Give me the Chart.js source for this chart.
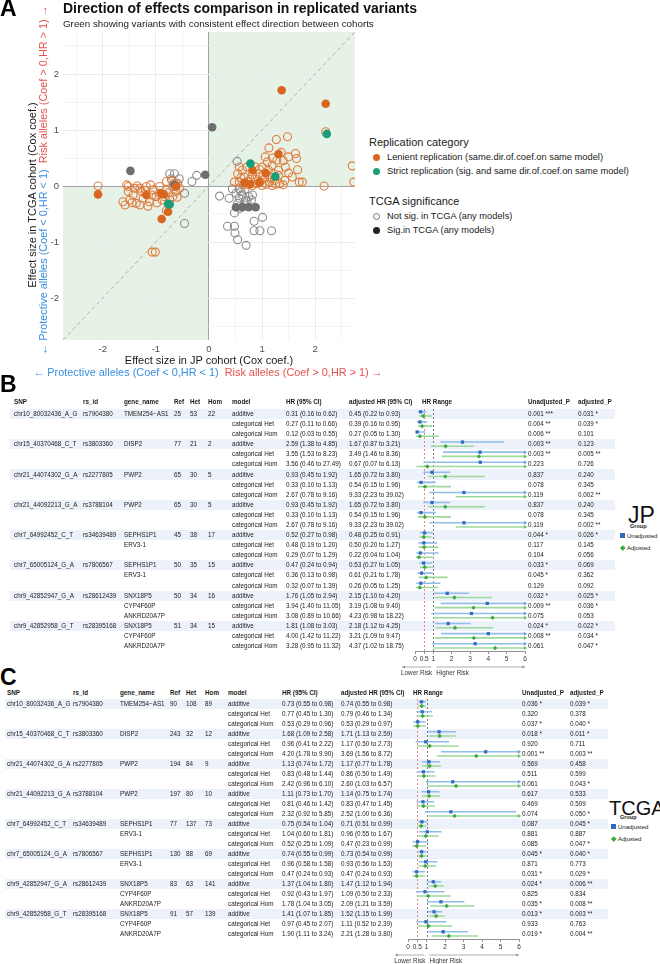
<!DOCTYPE html>
<html>
<head>
<meta charset="utf-8">
<title>Direction of effects comparison in replicated variants</title>
<script src="https://cdn.jsdelivr.net/npm/chart.js@4.4.1/dist/chart.umd.min.js"></script>
<style>
  body { margin: 0; width: 660px; height: 964px; position: relative; overflow: hidden; background: #fff;
         font-family: "Liberation Sans", Arial, sans-serif; color: #1a1a1a; }
  .t { position: absolute; white-space: nowrap; line-height: 1; z-index: 2; }
  canvas { position: absolute; z-index: 1; }
  .tag { font-weight: bold; font-size: 23px; color: #000; }
  .dot { position: absolute; width: 7px; height: 7px; border-radius: 50%; box-sizing: border-box; z-index: 2; }
</style>
</head>
<body>
<div class="t tag" style="left:0;top:-3px">A</div>
<div class="t" style="left:63px;top:1px;font-size:14px;font-weight:bold;color:#111">Direction of effects comparison in replicated variants</div>
<div class="t" style="left:63px;top:19px;font-size:9.8px;color:#222">Green showing variants with consistent effect direction between cohorts</div>
<canvas id="scatterA" width="360" height="380" style="left:0;top:0"></canvas>

<div class="t" style="left:209px;top:360px;transform:translate(-50%,-50%);font-size:11px">Effect size in JP cohort (Cox coef.)</div>
<div class="t" style="left:208px;top:372px;transform:translate(-50%,-50%);font-size:10.9px"><span style="color:#3a8ee2">← Protective alleles (Coef &lt; 0,HR &lt; 1)</span>&nbsp;&nbsp;<span style="color:#e2524e">Risk alleles (Coef &gt; 0,HR &gt; 1) →</span></div>
<div class="t" style="left:32px;top:195px;transform:translate(-50%,-50%) rotate(-90deg);font-size:11px">Effect size in TCGA cohort (Cox coef.)</div>
<div class="t" style="left:43px;top:180px;transform:translate(-50%,-50%) rotate(-90deg);font-size:10.9px"><span style="color:#3a8ee2">← Protective alleles (Coef &lt; 0,HR &lt; 1)</span>&nbsp;&nbsp;<span style="color:#e2524e">Risk alleles (Coef &gt; 0,HR &gt; 1) →</span></div>

<div class="t" style="left:369px;top:142px;transform:translateY(-50%);font-size:11px">Replication category</div>
<span class="dot" style="left:373px;top:154px;background:#D9661F"></span>
<div class="t" style="left:387px;top:158px;transform:translateY(-50%);font-size:9.3px">Lenient replication (same.dir.of.coef.on same model)</div>
<span class="dot" style="left:373px;top:168px;background:#1B9E77"></span>
<div class="t" style="left:387px;top:172px;transform:translateY(-50%);font-size:9.3px">Strict replication (sig. and same dir.of.coef.on same model)</div>
<div class="t" style="left:369px;top:201px;transform:translateY(-50%);font-size:11px">TCGA significance</div>
<span class="dot" style="left:373px;top:213px;border:1px solid #777"></span>
<div class="t" style="left:387px;top:217px;transform:translateY(-50%);font-size:9.3px">Not sig. in TCGA (any models)</div>
<span class="dot" style="left:373px;top:227px;background:#222"></span>
<div class="t" style="left:387px;top:231px;transform:translateY(-50%);font-size:9.3px">Sig.in TCGA (any models)</div>

<div class="t tag" style="left:0;top:373px">B</div>
<canvas id="forestB"></canvas>
<div class="t tag" style="left:0;top:666px">C</div>
<canvas id="forestC"></canvas>

<div class="t" style="left:628px;top:515px;transform:translateY(-50%);font-size:23px;color:#111">JP</div>
<div class="t" style="left:630px;top:527px;transform:translateY(-50%);font-size:5.5px;font-weight:bold">Group</div>
<span style="position:absolute;left:620px;top:533px;width:5px;height:5px;background:#2f6cc0;z-index:2"></span>
<div class="t" style="left:627px;top:536px;transform:translateY(-50%);font-size:6px">Unadjusted</div>
<span style="position:absolute;left:621px;top:546px;width:3.5px;height:3.5px;background:#3fa83f;transform:rotate(45deg);z-index:2"></span>
<div class="t" style="left:627px;top:548px;transform:translateY(-50%);font-size:6px">Adjusted</div>

<div class="t" style="left:609px;top:808px;transform:translateY(-50%);font-size:20px;color:#111">TCGA</div>
<div class="t" style="left:620px;top:818px;transform:translateY(-50%);font-size:5.5px;font-weight:bold">Group</div>
<span style="position:absolute;left:611px;top:824px;width:5px;height:5px;background:#2f6cc0;z-index:2"></span>
<div class="t" style="left:618px;top:827px;transform:translateY(-50%);font-size:6px">Unadjusted</div>
<span style="position:absolute;left:612px;top:837px;width:3.5px;height:3.5px;background:#3fa83f;transform:rotate(45deg);z-index:2"></span>
<div class="t" style="left:618px;top:839px;transform:translateY(-50%);font-size:6px">Adjusted</div>

<script>
// ---- panel A: effect sizes (Cox coef.), [JP, TCGA] ----
const strictPts = [[2.22,0.93],[0.78,0.4],[1.25,0.17],[-0.77,-0.32],[-0.74,-0.33]];
const lenientSig = [[1.37,1.71],[2.2,1.47],[1.31,0.57],[0.67,0.06],[0.95,0.06],[1.07,0.23],[0.82,0.28],[0.78,0.03],
  [-2.09,-0.15],[-0.9,-0.13],[-0.62,-0.01],[-0.77,-0.46],[-0.89,-0.59],[-1.18,-0.16],[-0.85,-0.15]];
const notRepSig = [[0.06,1.05],[-1.48,0.27],[-0.07,0.2],[0.51,-0.38],[0.63,-0.38],[0.75,-0.38],[0.88,-0.38],[-0.65,0.02]];
const lenientOpen = [[2.2,0.97],[1.48,0.88],[1.27,0.83],[1.13,0.68],[2.17,0.0],[2.7,0.36],[2.73,0.07],
  [0.54,0.22],[0.63,0.28],[0.72,0.34],[0.82,0.2],[1.0,0.34],[1.1,0.43],[1.19,0.37],[1.28,0.46],[1.36,0.6],
  [1.44,0.34],[1.5,0.52],[1.63,0.58],[1.65,0.49],[1.67,0.29],[1.5,0.23],[1.7,0.07],[1.76,0.07],[0.57,0.07],
  [0.66,0.16],[0.75,0.07],[0.87,0.13],[0.96,0.07],[1.05,0.13],[1.14,0.07],[1.24,0.1],[1.33,0.04],[1.43,0.1],
  [0.87,0.34],[1.06,0.52],[1.31,0.28],[1.22,0.22],[0.48,0.07],[0.57,0.34],[1.12,0.28],[0.94,0.22],[0.82,0.01],
  [1.0,0.01],[1.19,0.01],[1.31,0.19],[1.57,0.16],[0.65,0.02],[0.72,0.03],[0.9,0.04],[1.08,0.03],[1.26,0.03],
  [1.4,0.02],[0.78,0.12],[0.6,0.15],[1.15,0.16],[0.95,0.3],[1.02,0.2],[1.4,0.45],[1.2,0.5],
  [-2.09,0.0],[-1.07,-1.18],[-1.01,-1.18],[-1.55,0.02],[-1.4,-0.04],[-1.49,-0.25],[-1.62,-0.28],[-1.58,-0.34],
  [-1.37,-0.31],[-1.24,-0.22],[-1.12,-0.28],[-1.0,-0.19],[-1.05,-0.07],[-1.18,-0.01],[-0.93,-0.01],[-0.8,-0.07],
  [-0.68,-0.01],[-0.59,0.05],[-0.68,-0.19],[-0.84,-0.19],[-0.93,-0.13],[-1.08,-0.16],[-1.27,-0.1],[-1.43,-0.16],
  [-1.3,-0.34],[-1.15,-0.36],[-0.62,-0.1],[-0.55,-0.04],[-0.74,-0.25],[-0.8,-0.44],[-1.52,-0.1],[-1.3,-0.04],
  [-0.8,0.08],[-0.7,0.1],[-1.52,-0.01],[-1.35,0.0],[-1.2,-0.08],[-0.98,-0.3],[-0.88,-0.25],[-0.6,-0.2],
  [-1.45,-0.3],[-0.76,-0.12],[-0.65,0.05],[-1.1,0.02]];
const notRepOpen = [[0.53,0.44],[-0.74,0.22],[-0.65,0.22],[-0.71,0.13],[-0.56,0.13],[-0.62,0.05],[-0.46,-0.13],
  [-0.23,0.19],[-0.32,0.08],[-0.46,-0.67],[0.2,-0.18],[0.38,-0.22],[0.51,-0.13],[0.57,-0.22],[0.63,-0.16],
  [0.69,-0.25],[0.75,-0.19],[0.82,-0.16],[0.54,-0.31],[0.66,-0.34],[0.48,-0.48],[0.85,-0.63],[1.01,-0.56],
  [0.35,-0.72],[0.48,-0.72],[0.49,-0.84],[0.54,-0.96],[0.7,-1.06],[0.85,-0.8],[0.96,-0.8],[1.18,-0.8],
  [0.57,-0.05],[0.44,-0.05],[0.6,-0.1],[0.68,-0.06],[0.72,-0.28],[0.58,-0.4],[0.8,-0.25]];
const effectTicks = [-2.5,-2,-1.5,-1,-0.5,0,0.5,1,1.5,2,2.5];

// ---- panels B and C: tables ----
const snpIds = ['chr10_80032436_A_G','chr15_40370468_C_T','chr21_44074302_G_A','chr21_44092213_G_A',
  'chr7_64992452_C_T','chr7_65005124_G_A','chr9_42852947_G_A','chr9_42852958_G_T'];
const rsIds = ['rs7904380','rs3803360','rs2277805','rs3788104','rs34639489','rs7806567','rs28612439','rs28395168'];
const geneNames = [['TMEM254−AS1'],['DISP2'],['PWP2'],['PWP2'],['SEPHS1P1','ERV3-1'],['SEPHS1P1','ERV3-1'],
  ['SNX18P5','CYP4F60P','ANKRD20A7P'],['SNX18P5','CYP4F60P','ANKRD20A7P']];
const models = ['additive','categorical Het','categorical Hom'];
const hrTicks = [0,0.5,1,2,3,4,5,6];
const refHR = [0.5, 1];

const jpCounts = [[25,53,22],[77,21,2],[65,30,5],[65,30,5],[45,38,17],[50,35,15],[50,34,16],[51,34,15]];
const jpHR = [[0.31,0.16,0.62],[0.27,0.11,0.66],[0.12,0.03,0.55],[2.59,1.38,4.85],[3.55,1.53,8.23],[3.56,0.46,27.49],
  [0.93,0.45,1.92],[0.33,0.10,1.13],[2.67,0.78,9.16],[0.93,0.45,1.92],[0.33,0.10,1.13],[2.67,0.78,9.16],
  [0.52,0.27,0.98],[0.48,0.19,1.20],[0.29,0.07,1.29],[0.47,0.24,0.94],[0.36,0.13,0.98],[0.32,0.07,1.39],
  [1.76,1.05,2.94],[3.94,1.40,11.05],[3.08,0.89,10.66],[1.81,1.08,3.03],[4.00,1.42,11.22],[3.28,0.95,11.32]];
const jpAdjHR = [[0.45,0.22,0.93],[0.39,0.16,0.95],[0.27,0.05,1.30],[1.67,0.87,3.21],[3.49,1.46,8.36],[0.67,0.07,6.13],
  [1.65,0.72,3.80],[0.54,0.15,1.96],[9.33,2.23,39.02],[1.65,0.72,3.80],[0.54,0.15,1.96],[9.33,2.23,39.02],
  [0.48,0.25,0.91],[0.50,0.20,1.27],[0.22,0.04,1.04],[0.53,0.27,1.05],[0.61,0.21,1.78],[0.26,0.05,1.25],
  [2.15,1.10,4.20],[3.19,1.08,9.40],[4.23,0.98,18.22],[2.18,1.12,4.25],[3.21,1.09,9.47],[4.37,1.02,18.75]];
const jpP = ['0.001 ***','0.004 **','0.006 **','0.003 **','0.003 **','0.223','0.837','0.078','0.119','0.837','0.078','0.119',
  '0.044 *','0.117','0.104','0.033 *','0.045 *','0.129','0.032 *','0.009 **','0.075','0.024 *','0.008 **','0.061'];
const jpAdjP = ['0.031 *','0.039 *','0.101','0.123','0.005 **','0.726','0.240','0.345','0.002 **','0.240','0.345','0.002 **',
  '0.026 *','0.145','0.056','0.069','0.362','0.092','0.025 *','0.036 *','0.053','0.022 *','0.034 *','0.047 *'];

const tcgaCounts = [[90,108,89],[243,32,12],[194,84,9],[197,80,10],[77,137,73],[130,88,69],[83,63,141],[91,57,139]];
const tcgaHR = [[0.73,0.55,0.98],[0.77,0.45,1.30],[0.53,0.29,0.96],[1.68,1.09,2.58],[0.96,0.41,2.22],[4.20,1.78,9.90],
  [1.13,0.74,1.72],[0.83,0.48,1.44],[2.42,0.96,6.10],[1.11,0.73,1.70],[0.81,0.46,1.42],[2.32,0.92,5.85],
  [0.75,0.54,1.04],[1.04,0.60,1.81],[0.52,0.25,1.09],[0.74,0.55,0.99],[0.96,0.58,1.58],[0.47,0.24,0.93],
  [1.37,1.04,1.80],[0.92,0.43,1.97],[1.78,1.04,3.05],[1.41,1.07,1.85],[0.97,0.45,2.07],[1.90,1.11,3.24]];
const tcgaAdjHR = [[0.74,0.55,0.98],[0.79,0.46,1.34],[0.53,0.29,0.97],[1.71,1.13,2.59],[1.17,0.50,2.73],[3.69,1.56,8.72],
  [1.17,0.77,1.78],[0.86,0.50,1.49],[2.60,1.03,6.57],[1.14,0.75,1.74],[0.83,0.47,1.45],[2.52,1.00,6.36],
  [0.71,0.51,0.99],[0.96,0.55,1.67],[0.47,0.23,0.99],[0.73,0.54,0.99],[0.93,0.56,1.53],[0.47,0.24,0.93],
  [1.47,1.12,1.94],[1.09,0.50,2.33],[2.09,1.21,3.59],[1.52,1.15,1.99],[1.11,0.52,2.39],[2.21,1.28,3.80]];
const tcgaP = ['0.036 *','0.320','0.037 *','0.018 *','0.920','0.001 **','0.569','0.511','0.061','0.617','0.469','0.074',
  '0.087','0.881','0.085','0.045 *','0.871','0.031 *','0.024 *','0.825','0.035 *','0.013 *','0.933','0.019 *'];
const tcgaAdjP = ['0.039 *','0.378','0.040 *','0.011 *','0.711','0.003 **','0.458','0.599','0.043 *','0.533','0.509','0.050 *',
  '0.045 *','0.887','0.047 *','0.040 *','0.773','0.029 *','0.006 **','0.834','0.008 **','0.003 **','0.763','0.004 **'];

const headers = ['SNP','rs_id','gene_name','Ref','Het','Hom','model','HR (95% CI)','adjusted HR (95% CI)','HR Range','Unadjusted_P','adjusted_P'];

Chart.defaults.font.family = '"Liberation Sans", Arial, sans-serif';

// shaded quadrants + y = x reference
const quadrants = {
  id: 'quadrants',
  beforeDraw(chart) {
    const {ctx, chartArea: ca, scales: {x, y}} = chart;
    const x0 = x.getPixelForValue(0), y0 = y.getPixelForValue(0);
    ctx.save();
    ctx.fillStyle = '#e7f2e6';
    ctx.fillRect(x0, ca.top, ca.right - x0, y0 - ca.top);
    ctx.fillRect(ca.left, y0, x0 - ca.left, ca.bottom - y0);
    ctx.restore();
  },
  beforeDatasetsDraw(chart) {
    const {ctx, chartArea: ca, scales: {x, y}} = chart;
    const lo = Math.max(x.min, y.min), hi = Math.min(x.max, y.max);
    ctx.save();
    ctx.beginPath();
    ctx.rect(ca.left, ca.top, ca.width, ca.height);
    ctx.clip();
    ctx.strokeStyle = '#b0b0b0';
    ctx.lineWidth = 1;
    ctx.setLineDash([4, 3]);
    ctx.beginPath();
    ctx.moveTo(x.getPixelForValue(lo), y.getPixelForValue(lo));
    ctx.lineTo(x.getPixelForValue(hi), y.getPixelForValue(hi));
    ctx.stroke();
    ctx.restore();
  }
};

const effectAxis = (fit) => ({
  type: 'linear', min: -2.75, max: 2.75,
  afterFit: fit,
  afterBuildTicks: s => { s.ticks = effectTicks.map(v => ({value: v})); },
  ticks: {callback: v => Number.isInteger(v) ? String(v) : '', color: '#4d4d4d', font: {size: 9.5},
          padding: 4, maxRotation: 0, autoSkip: false},
  grid: {drawTicks: false,
         color: c => c.tick && c.tick.value === 0 ? '#a3a3a3' : '#ebebeb',
         lineWidth: c => c.tick && Number.isInteger(c.tick.value) ? 1 : 0.6},
  border: {display: false}
});

new Chart(document.getElementById('scatterA'), {
  type: 'scatter',
  data: {datasets: [
    {data: strictPts, pointBackgroundColor: '#1B9E77', pointBorderWidth: 0, pointRadius: 4.3},
    {data: lenientSig, pointBackgroundColor: '#D9661F', pointBorderWidth: 0, pointRadius: 4.3},
    {data: notRepSig, pointBackgroundColor: '#6e6e6e', pointBorderWidth: 0, pointRadius: 4.3},
    {data: lenientOpen, pointBackgroundColor: 'rgba(0,0,0,0)', pointBorderColor: '#E07A3A', pointBorderWidth: 1.1, pointRadius: 4},
    {data: notRepOpen, pointBackgroundColor: 'rgba(0,0,0,0)', pointBorderColor: '#8c8c8c', pointBorderWidth: 1.1, pointRadius: 4}
  ]},
  options: {
    responsive: false, animation: false, events: [],
    layout: {padding: {top: 32, right: 4, left: 0, bottom: 0}},
    plugins: {legend: {display: false}, tooltip: {enabled: false}},
    scales: {
      x: effectAxis(s => { s.height = 40; }),
      y: effectAxis(s => { s.width = 63; })
    }
  },
  plugins: [quadrants]
});

// ---- forest plots ----
const refLines = {
  id: 'refLines',
  beforeDatasetsDraw(chart) {
    const {ctx, chartArea: ca, scales: {x}} = chart;
    const cols = ['#e77b7b', '#707070'];
    refHR.forEach((v, k) => {
      const px = Math.round(x.getPixelForValue(v)) + 0.5;
      ctx.save();
      ctx.strokeStyle = cols[k];
      ctx.lineWidth = 0.9;
      ctx.setLineDash([2, 2]);
      ctx.beginPath();
      ctx.moveTo(px, ca.top);
      ctx.lineTo(px, ca.bottom);
      ctx.stroke();
      ctx.restore();
    });
  },
  afterDraw(chart) {
    const {ctx, chartArea: ca, scales: {x}} = chart;
    const y = ca.bottom + 16;
    const a = x.getPixelForValue(0) - 13, b = x.getPixelForValue(1) - 2;
    const c = x.getPixelForValue(1) + 3, d = x.getPixelForValue(x.max);
    ctx.save();
    ctx.strokeStyle = '#9a9a9a';
    ctx.fillStyle = '#9a9a9a';
    ctx.lineWidth = 0.8;
    ctx.beginPath();
    ctx.moveTo(a, y); ctx.lineTo(b, y);
    ctx.moveTo(c, y); ctx.lineTo(d, y);
    ctx.stroke();
    ctx.beginPath();
    ctx.moveTo(a, y); ctx.lineTo(a + 3, y - 1.5); ctx.lineTo(a + 3, y + 1.5); ctx.closePath();
    ctx.moveTo(d, y); ctx.lineTo(d - 3, y - 1.5); ctx.lineTo(d - 3, y + 1.5); ctx.closePath();
    ctx.fill();
    ctx.fillStyle = '#333';
    ctx.font = '6.3px "Liberation Sans", Arial, sans-serif';
    ctx.textBaseline = 'middle';
    ctx.textAlign = 'center';
    ctx.fillText('Lower Risk', (a + b) / 2, y + 6);
    ctx.textAlign = 'left';
    ctx.fillText('Higher Risk', c, y + 6);
    ctx.restore();
  }
};

function forestChart(id, L, hr, adj) {
  const hrMax = hrTicks[hrTicks.length - 1];
  const up = i => i - 0.22, dn = i => i + 0.2;
  const seg = (rows, f) => rows.flatMap((r, i) => [{x: r[1], y: f(i)}, {x: Math.min(r[2], hrMax), y: f(i)}, {x: null, y: null}]);
  const pts = (rows, f) => rows.map((r, i) => ({x: r[0], y: f(i)}));
  const tips = (rows, f) => rows.map((r, i) => r[2] > hrMax ? {x: hrMax, y: f(i)} : null).filter(Boolean);
  const cv = document.getElementById(id);
  const padTop = 9, axisH = 28;
  cv.width = Math.round(L.x6 - L.x0 + 40);
  cv.height = Math.round(padTop + 24 * L.rowH + axisH);
  cv.style.left = (L.x0 - 20) + 'px';
  cv.style.top = (L.row0 - L.rowH / 2 - padTop) + 'px';
  new Chart(cv, {
    type: 'scatter',
    data: {datasets: [
      {data: pts(hr, up), pointStyle: 'rect', pointRadius: 2.3, pointBackgroundColor: '#2f6cc0', pointBorderWidth: 0, order: 1},
      {data: pts(adj, dn), pointStyle: 'rectRot', pointRadius: 2.2, pointBackgroundColor: '#3fa83f', pointBorderWidth: 0, order: 1},
      {data: tips(hr, up), pointStyle: 'triangle', pointRotation: 90, pointRadius: 2.3, pointBackgroundColor: '#6ea2da', pointBorderWidth: 0, clip: 6, order: 2},
      {data: tips(adj, dn), pointStyle: 'triangle', pointRotation: 90, pointRadius: 2.3, pointBackgroundColor: '#6cc366', pointBorderWidth: 0, clip: 6, order: 2},
      {data: seg(hr, up), showLine: true, spanGaps: false, borderColor: '#92bde8', borderWidth: 1.6, pointRadius: 0, order: 3},
      {data: seg(adj, dn), showLine: true, spanGaps: false, borderColor: '#9ed89a', borderWidth: 1.6, pointRadius: 0, order: 3}
    ]},
    options: {
      responsive: false, animation: false, events: [],
      layout: {padding: {top: padTop, left: 20, right: 20, bottom: 0}},
      plugins: {legend: {display: false}, tooltip: {enabled: false}},
      scales: {
        x: {type: 'linear', min: 0, max: hrMax,
            afterFit: s => { s.height = axisH; },
            afterBuildTicks: s => { s.ticks = hrTicks.map(v => ({value: v})); },
            ticks: {callback: v => String(v), color: '#333', font: {size: 6.5}, padding: 1, maxRotation: 0, autoSkip: false},
            grid: {drawOnChartArea: false, drawTicks: true, tickLength: 3, color: '#666', lineWidth: 0.7},
            border: {display: true, color: '#666', width: 0.7}},
        y: {type: 'linear', min: -0.5, max: 23.5, reverse: true, display: false}
      }
    },
    plugins: [refLines]
  });
}

function text(str, x, y, size, bold) {
  const d = document.createElement('div');
  d.className = 't';
  d.textContent = str;
  d.style.left = x + 'px';
  d.style.top = y + 'px';
  d.style.transform = 'translateY(-50%)';
  d.style.fontSize = size + 'px';
  if (bold) d.style.fontWeight = 'bold';
  document.body.appendChild(d);
}

function table(L, counts, hr, adj, pU, pA) {
  const fmt = r => `${r[0].toFixed(2)} (${r[1].toFixed(2)} to ${r[2].toFixed(2)})`;
  headers.forEach((h, k) => text(h, L.cols[k], L.header, 6.3, true));
  for (let i = 0; i < 24; i++) {
    const g = Math.floor(i / 3), k = i % 3, y = L.row0 + i * L.rowH;
    if (k === 0) {
      const band = document.createElement('div');
      band.style.cssText = `position:absolute;z-index:0;background:#edf2fa;left:${L.band[0]}px;width:${L.band[1] - L.band[0]}px;top:${y - L.rowH / 2}px;height:${L.rowH}px`;
      document.body.appendChild(band);
      text(snpIds[g], L.cols[0], y, 6.3);
      text(rsIds[g], L.cols[1], y, 6.3);
      counts[g].forEach((n, j) => text(String(n), L.cols[3 + j], y, 6.3));
    }
    if (geneNames[g][k]) text(geneNames[g][k], L.cols[2], y, 6.3);
    text(models[k], L.cols[6], y, 6.3);
    text(fmt(hr[i]), L.cols[7], y, 6.3);
    text(fmt(adj[i]), L.cols[8], y, 6.3);
    text(pU[i], L.cols[10], y, 6.3);
    text(pA[i], L.cols[11], y, 6.3);
  }
}

const layoutB = {header: 402, row0: 414, rowH: 10.09, x0: 415, x6: 525, band: [10, 615],
  cols: [14, 83, 124, 174, 190, 208, 232, 286, 349, 422, 528, 578]};
const layoutC = {header: 693, row0: 704, rowH: 10.0, x0: 408, x6: 519, band: [5, 608],
  cols: [7, 73, 120, 170, 186, 205, 228, 282, 341, 413, 522, 570]};

table(layoutB, jpCounts, jpHR, jpAdjHR, jpP, jpAdjP);
table(layoutC, tcgaCounts, tcgaHR, tcgaAdjHR, tcgaP, tcgaAdjP);
forestChart('forestB', layoutB, jpHR, jpAdjHR);
forestChart('forestC', layoutC, tcgaHR, tcgaAdjHR);
</script>
</body>
</html>
